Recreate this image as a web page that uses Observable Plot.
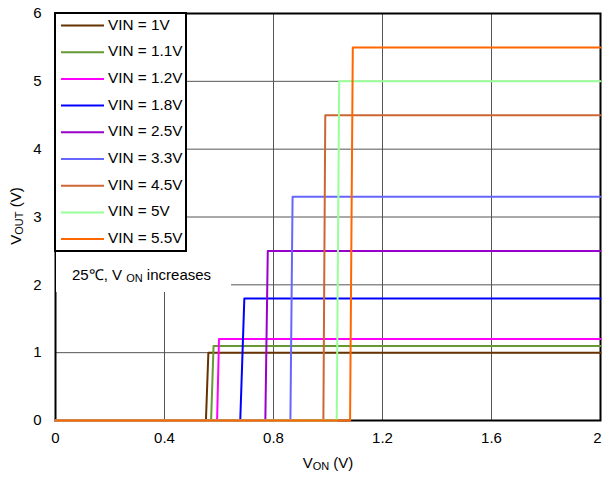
<!DOCTYPE html>
<html>
<head>
<meta charset="utf-8">
<script src="https://cdn.jsdelivr.net/npm/d3@7"></script>
<script src="https://cdn.jsdelivr.net/npm/@observablehq/plot@0.6"></script>
<style>
  html, body { margin: 0; padding: 0; background: #fff; }
  svg { display: block; }
</style>
</head>
<body>
<div id="chart"></div>
<script>
// Series: input voltage, V_ON at which output starts rising and where it reaches VIN
const vinValues = [1, 1.1, 1.2, 1.8, 2.5, 3.3, 4.5, 5, 5.5];
const seriesLabels = ["VIN = 1V", "VIN = 1.1V", "VIN = 1.2V", "VIN = 1.8V", "VIN = 2.5V", "VIN = 3.3V", "VIN = 4.5V", "VIN = 5V", "VIN = 5.5V"];
const seriesColors = ["#663300", "#669933", "#FF00FF", "#0000FF", "#9900CC", "#6666FF", "#CC6633", "#99FF99", "#FF6600"];
const riseStart = [0.552, 0.571, 0.593, 0.678, 0.770, 0.862, 0.983, 1.032, 1.081];
const riseEnd   = [0.561, 0.580, 0.600, 0.693, 0.779, 0.870, 0.990, 1.041, 1.091];
const sweepStart = 0;
const sweepEnd = 2;
const xTicks = [0, 0.4, 0.8, 1.2, 1.6, 2];
const xTickLabels = ["0", "0.4", "0.8", "1.2", "1.6", "2"];
const yTicks = [0, 1, 2, 3, 4, 5, 6];
const yTickLabels = ["0", "1", "2", "3", "4", "5", "6"];
const annotation = {pre: "25℃, V ", sub: "ON", post: " increases"};

const rows = [];
vinValues.forEach((v, i) => {
  const s = seriesLabels[i];
  rows.push({s, x: sweepStart, y: 0});
  rows.push({s, x: riseStart[i], y: 0});
  rows.push({s, x: riseEnd[i], y: v});
  rows.push({s, x: sweepEnd, y: v});
});

const W = 603, H = 477;
const font = "'Liberation Sans', Arial, sans-serif";
const xFmt = d => xTickLabels[xTicks.indexOf(d)];

const svg = Plot.plot({
  width: W, height: H,
  marginLeft: 55, marginRight: 3, marginTop: 13, marginBottom: 57,
  style: {fontFamily: font, fontSize: "15px", color: "#000", background: "#fff", overflow: "visible"},
  x: {domain: [0, 2], label: null},
  y: {domain: [0, 6], label: null},
  color: {domain: seriesLabels, range: seriesColors},
  marks: [
    Plot.gridX(xTicks.slice(1, -1), {stroke: "#555", strokeOpacity: 1, strokeWidth: 1}),
    Plot.gridY(yTicks.slice(1, -1), {stroke: "#555", strokeOpacity: 1, strokeWidth: 1}),
    Plot.axisX(xTicks.slice(0, -1), {tickFormat: xFmt, tickSize: 0, tickPadding: 12, label: null}),
    Plot.axisX(xTicks.slice(-1), {tickFormat: xFmt, tickSize: 0, tickPadding: 12, dx: -3, label: null}),
    Plot.axisY(yTicks, {tickFormat: d => yTickLabels[yTicks.indexOf(d)], tickSize: 0, tickPadding: 14, label: null}),
    Plot.frame({stroke: "#000", strokeWidth: 2}),
    Plot.line(rows, {x: "x", y: "y", z: "s", stroke: "s", strokeWidth: 2, curve: "linear"})
  ]
});
document.getElementById("chart").appendChild(svg);

const root = d3.select(svg);

// annotation with white background
const ann = root.append("g");
ann.append("rect").attr("x", 56).attr("y", 252).attr("width", 175).attr("height", 40).attr("fill", "#fff");
const at = ann.append("text").attr("x", 72).attr("y", 276).attr("dominant-baseline", "middle")
  .attr("text-anchor", "start")
  .attr("font-family", font).attr("font-size", 15).attr("fill", "#000");
at.append("tspan").text(annotation.pre);
at.append("tspan").attr("font-size", 11).attr("dy", 3).text(annotation.sub);
at.append("tspan").attr("dy", -3).text(annotation.post);

// legend
const lg = root.append("g");
lg.append("rect").attr("x", 55).attr("y", 13).attr("width", 131).attr("height", 238)
  .attr("fill", "#fff").attr("stroke", "#000").attr("stroke-width", 2);
seriesLabels.forEach((lab, i) => {
  const yy = 25.5 + i * 26.7;
  lg.append("line").attr("x1", 61).attr("x2", 104).attr("y1", yy).attr("y2", yy)
    .attr("stroke", seriesColors[i]).attr("stroke-width", 2);
  lg.append("text").attr("x", 108).attr("y", yy).attr("dominant-baseline", "middle")
    .attr("text-anchor", "start")
    .attr("font-family", font).attr("font-size", 15.3).attr("fill", "#000").text(lab);
});

// axis titles with subscripts
const xl = root.append("text").attr("x", 328).attr("y", 464).attr("text-anchor", "middle")
  .attr("dominant-baseline", "middle").attr("font-family", font).attr("font-size", 15).attr("fill", "#000");
xl.append("tspan").text("V");
xl.append("tspan").attr("font-size", 11).attr("dy", 3).text("ON");
xl.append("tspan").attr("dy", -3).text(" (V)");

const yl = root.append("text").attr("transform", "translate(17,216) rotate(-90)").attr("text-anchor", "middle")
  .attr("dominant-baseline", "middle").attr("font-family", font).attr("font-size", 15).attr("fill", "#000");
yl.append("tspan").text("V");
yl.append("tspan").attr("font-size", 11).attr("dy", 3).text("OUT");
yl.append("tspan").attr("dy", -3).text(" (V)");
</script>
</body>
</html>
